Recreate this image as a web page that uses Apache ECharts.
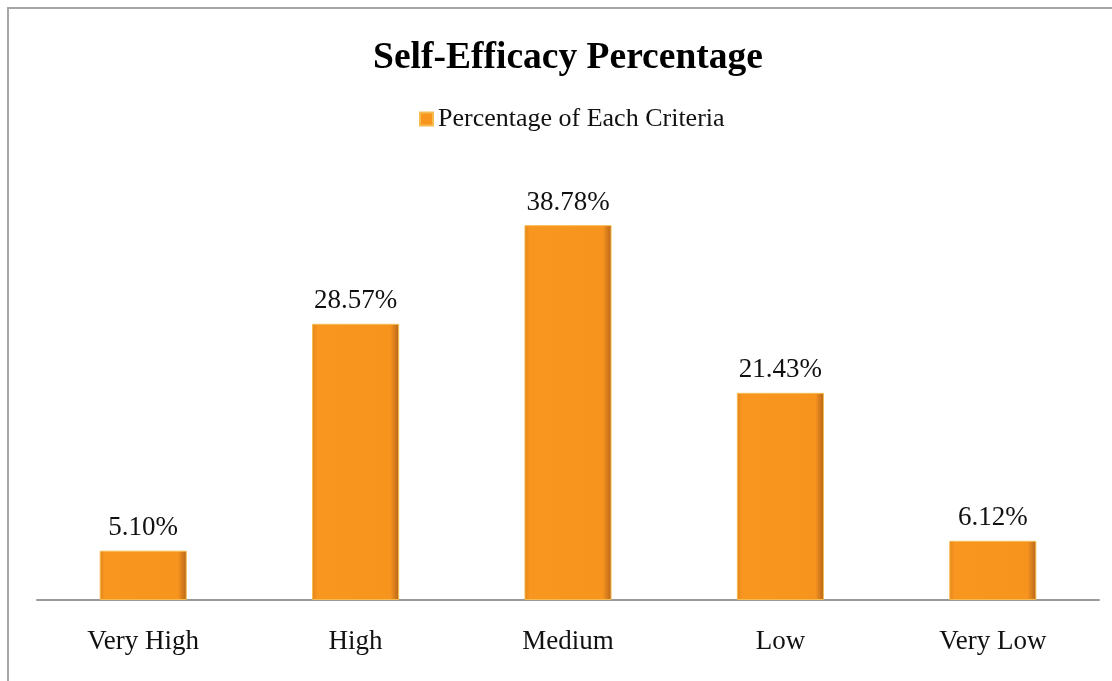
<!DOCTYPE html>
<html>
<head>
    <meta charset="UTF-8">
    <title>Self-Efficacy Percentage</title>
    <script src="https://cdn.jsdelivr.net/npm/echarts@6/dist/echarts.min.js"></script>
</head>
<body style="margin:0;background:#fff;">
<div id="main" style="width:1112px;height:681px;"></div>
<script>
    var categories = ['Very High', 'High', 'Medium', 'Low', 'Very Low'];
    var percentages = [5.10, 28.57, 38.78, 21.43, 6.12];
    var seriesName = 'Percentage of Each Criteria';

    var serif = '"Liberation Serif", "DejaVu Serif", serif';

    var barColor = new echarts.graphic.LinearGradient(0, 0, 1, 0, [
        {offset: 0, color: '#e4841c'},
        {offset: 0.06, color: '#f8961f'},
        {offset: 0.9, color: '#f7941e'},
        {offset: 1, color: '#b5641b'}
    ]);

    var chart = echarts.init(document.getElementById('main'));
    chart.setOption({
        backgroundColor: '#fff',
        animation: false,
        graphic: [{
            type: 'rect',
            shape: {x: 8, y: 8, width: 1300, height: 900},
            style: {fill: 'none', stroke: '#a6a6a6', lineWidth: 2},
            silent: true
        }],
        title: {
            text: 'Self-Efficacy Percentage',
            left: 563,
            textAlign: 'center',
            top: 34,
            textStyle: {fontFamily: serif, fontSize: 37.5, fontWeight: 'bold', color: '#000'}
        },
        legend: {
            top: 101,
            left: 414,
            icon: 'rect',
            itemWidth: 13,
            itemHeight: 13,
            itemGap: 4,
            data: [seriesName],
            textStyle: {fontFamily: serif, fontSize: 26, color: '#111'}
        },
        grid: {left: 37, right: 13, top: 165, bottom: 81},
        xAxis: {
            type: 'category',
            data: categories,
            axisLine: {lineStyle: {color: '#999', width: 2}},
            axisTick: {show: false},
            axisLabel: {margin: 28, fontFamily: serif, fontSize: 27, color: '#111'}
        },
        yAxis: {
            type: 'value',
            min: 0,
            max: 45,
            show: false,
            splitLine: {show: false}
        },
        series: [{
            name: seriesName,
            type: 'bar',
            data: percentages,
            barWidth: '41%',
            itemStyle: {
                color: barColor,
                borderColor: '#f5bb4e',
                borderWidth: 1
            },
            label: {
                show: true,
                position: 'top',
                distance: 9,
                fontFamily: serif,
                fontSize: 27,
                color: '#111',
                formatter: function (p) { return p.value.toFixed(2) + '%'; }
            }
        }]
    });
</script>
</body>
</html>
